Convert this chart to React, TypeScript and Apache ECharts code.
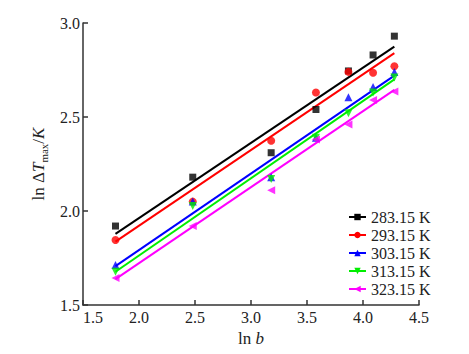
import React, { useEffect, useRef } from "react";
import * as echarts from "echarts";

const lnB = [1.79, 2.48, 3.18, 3.58, 3.87, 4.09, 4.28];
const seriesNames = ["283.15 K", "293.15 K", "303.15 K", "313.15 K", "323.15 K"];
const colors = ["#000000", "#ff0000", "#0000ff", "#00ee00", "#ff00ff"];
const symbols = ["rect", "circle", "triangle", "triangle", "triangle"];
const symbolRotates = [0, 0, 0, 180, 90];
const symbolSizes = [7, 8, 8, 8, 8];

const v283 = [1.92, 2.18, 2.31, 2.54, 2.745, 2.83, 2.93];
const v293 = [1.846, 2.05, 2.374, 2.63, 2.74, 2.735, 2.77];
const v303 = [1.713, 2.05, 2.18, 2.39, 2.605, 2.66, 2.74];
const v313 = [1.677, 2.027, 2.17, 2.39, 2.52, 2.63, 2.71];
const v323 = [1.644, 1.92, 2.11, 2.38, 2.46, 2.59, 2.635];
const values = [v283, v293, v303, v313, v323];

// fitted lines: value at first and last ln b
const fitStart = [1.878, 1.837, 1.707, 1.677, 1.638];
const fitEnd = [2.874, 2.84, 2.72, 2.70, 2.644];

const xTicks = { min: 1.5, max: 4.5, interval: 0.5 };
const yTicks = { min: 1.5, max: 3.0, interval: 0.5 };

export default function App() {
  const ref = useRef<HTMLDivElement>(null);
  useEffect(() => {
    if (!ref.current) return;
    const chart = echarts.init(ref.current, null, { renderer: "svg" });
    const font = "'Liberation Serif', 'Times New Roman', serif";
    const series: any[] = [];
    seriesNames.forEach((name, i) => {
      series.push({
        type: "line",
        name,
        data: [
          [lnB[0], fitStart[i]],
          [lnB[lnB.length - 1], fitEnd[i]],
        ],
        symbol: symbols[i],
        symbolRotate: symbolRotates[i],
        showSymbol: false,
        lineStyle: { color: colors[i], width: 2 },
        itemStyle: { color: colors[i] },
        z: 2,
      });
      series.push({
        type: "scatter",
        name,
        data: lnB.map((x, j) => [x, values[i][j]]),
        symbol: symbols[i],
        symbolRotate: symbolRotates[i],
        symbolSize: symbolSizes[i],
        itemStyle: { color: colors[i] },
        z: 3,
      });
    });
    chart.setOption({
      animation: false,
      textStyle: { fontFamily: font },
      grid: { left: 83, right: 50, top: 23, bottom: 49 },
      legend: {
        data: seriesNames,
        orient: "vertical",
        left: 343,
        top: 204,
        itemWidth: 17,
        itemHeight: 8,
        itemGap: 2,
        textStyle: { fontFamily: font, fontSize: 16, color: "#222" },
      },
      xAxis: {
        type: "value",
        min: xTicks.min,
        max: xTicks.max,
        interval: xTicks.interval,
        name: "{r|ln }{i|b}",
        nameLocation: "middle",
        nameGap: 24,
        nameTextStyle: {
          rich: {
            r: { fontFamily: font, fontSize: 17, color: "#222" },
            i: { fontFamily: font, fontSize: 17, fontStyle: "italic", color: "#222" },
          },
        },
        axisLine: { lineStyle: { color: "#333", width: 1.5 } },
        axisTick: { inside: true, length: 5, lineStyle: { color: "#333", width: 1.5 } },
        axisLabel: {
          fontFamily: font,
          fontSize: 16,
          color: "#222",
          margin: 4,
          alignMinLabel: "left",
          formatter: (v: number) => v.toFixed(1),
        },
        splitLine: { show: false },
      },
      yAxis: {
        type: "value",
        min: yTicks.min,
        max: yTicks.max,
        interval: yTicks.interval,
        name: "{r|ln Δ}{i|T}{s|max}{r|/}{i|K}",
        nameLocation: "middle",
        nameRotate: 90,
        nameGap: 32,
        nameTextStyle: {
          rich: {
            r: { fontFamily: font, fontSize: 17, color: "#222", lineHeight: 22, verticalAlign: "middle" },
            i: { fontFamily: font, fontSize: 17, fontStyle: "italic", color: "#222", lineHeight: 22, verticalAlign: "middle" },
            s: { fontFamily: font, fontSize: 11, color: "#222", lineHeight: 11, verticalAlign: "bottom" },
          },
        },
        axisLine: { show: true, lineStyle: { color: "#333", width: 1.5 } },
        axisTick: { show: true, inside: true, length: 5, lineStyle: { color: "#333", width: 1.5 } },
        axisLabel: {
          fontFamily: font,
          fontSize: 16,
          color: "#222",
          margin: 3,
          formatter: (v: number) => v.toFixed(1),
        },
        splitLine: { show: false },
      },
      series,
    });
    return () => chart.dispose();
  }, []);
  return (
    <div
      ref={ref}
      style={{ position: "fixed", left: 0, top: 0, width: 469, height: 354, background: "#fff" }}
    />
  );
}
